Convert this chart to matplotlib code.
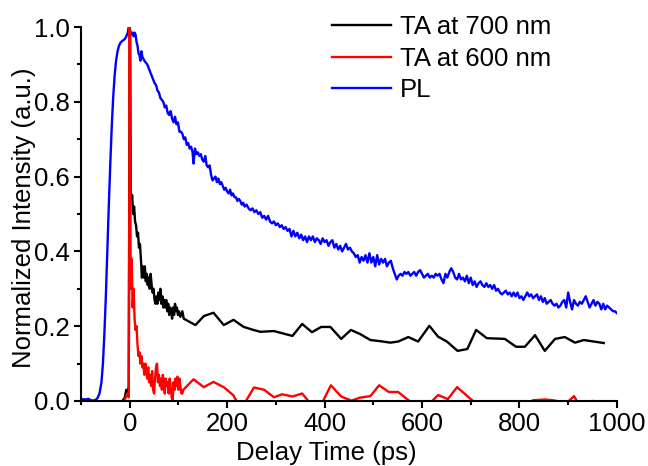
import numpy as np
import matplotlib
matplotlib.use("Agg")
import matplotlib.pyplot as plt
from matplotlib.ticker import MultipleLocator

plt.rcParams['font.family'] = ['Liberation Sans', 'DejaVu Sans']

# TA at 700 nm
ta700_t = [-15, -10, -7, -4, -2, 0, 1, 2, 4, 5, 7, 9, 11, 13, 15, 17, 19, 21, 23, 25,
           27, 29, 31, 33, 35, 37, 39, 41, 43, 45, 47, 49, 51, 53, 55, 57, 59, 61, 63, 65,
           67, 69, 71, 73, 75, 77, 79, 81, 83, 85, 87, 89, 91, 93, 95, 97, 99, 101, 104, 108,
           111, 135, 152, 172, 193, 213, 234, 254, 268, 296, 334, 354, 374, 393, 412, 434, 454, 473, 494, 514,
           535, 551, 572, 592, 615, 633, 651, 673, 693, 711, 733, 770, 793, 811, 832, 852, 873, 893, 914, 932,
           973]
ta700_y = [0.0, 0.01, 0.03, 0.02, 0.04, 1.0, 0.97, 0.56, 0.54, 0.55, 0.50, 0.52, 0.48, 0.47, 0.44, 0.45, 0.41, 0.42, 0.38, 0.33,
           0.36, 0.33, 0.36, 0.32, 0.34, 0.31, 0.33, 0.30, 0.34, 0.31, 0.29, 0.30, 0.27, 0.26, 0.28, 0.26, 0.29, 0.27, 0.30, 0.26,
           0.28, 0.25, 0.27, 0.25, 0.27, 0.24, 0.26, 0.23, 0.25, 0.24, 0.22, 0.25, 0.23, 0.26, 0.24, 0.25, 0.23, 0.24, 0.225, 0.24,
           0.22, 0.203, 0.227, 0.236, 0.203, 0.217, 0.198, 0.19, 0.185, 0.187, 0.174, 0.206, 0.184, 0.198, 0.198, 0.166, 0.19, 0.179, 0.163, 0.16,
           0.156, 0.159, 0.171, 0.159, 0.201, 0.172, 0.159, 0.134, 0.139, 0.19, 0.168, 0.166, 0.145, 0.145, 0.176, 0.134, 0.166, 0.171, 0.156, 0.163,
           0.155]

# TA at 600 nm
ta600_t = [-12, -8, -5, -2, 0, 2, 4, 6, 8, 10, 12, 14, 16, 18, 20, 22, 24, 26, 28, 30,
           32, 34, 36, 38, 40, 42, 44, 46, 48, 50, 52, 54, 56, 58, 60, 62, 64, 66, 68, 70,
           72, 74, 76, 78, 80, 82, 84, 86, 88, 90, 92, 94, 96, 98, 100, 102, 104, 106, 108, 110,
           131, 152, 172, 193, 213, 221, 234, 255, 276, 296, 313, 334, 354, 373, 393, 413, 434, 455, 473, 494,
           512, 532, 551, 579, 617, 633, 653, 672, 693, 709, 730, 750, 770, 790, 810, 828, 852, 869, 897, 912,
           920, 951, 965]
ta600_y = [0.0, 0.01, 0.02, 0.01, 1.0, 0.30, 0.38, 0.25, 0.30, 0.22, 0.19, 0.20, 0.15, 0.12, 0.13, 0.10, 0.12, 0.09, 0.10, 0.07,
           0.10, 0.08, 0.06, 0.09, 0.05, 0.07, 0.04, 0.08, 0.03, 0.02, 0.06, 0.09, 0.10, 0.05, 0.07, 0.04, 0.06, 0.03, 0.07, 0.05,
           0.02, 0.06, 0.04, 0.05, 0.02, 0.06, 0.04, 0.01, 0.0, 0.05, 0.03, 0.06, 0.04, 0.065, 0.03, 0.06, 0.04, 0.02, 0.02, 0.03,
           0.058, 0.037, 0.051, 0.037, 0.015, -0.005, -0.01, 0.036, 0.03, 0.01, 0.018, 0.012, 0.02, -0.01, -0.01, 0.042, 0.012, 0.001, 0.009, 0.013,
           0.042, 0.024, 0.024, -0.005, -0.005, 0.016, 0.005, 0.037, 0.013, -0.005, -0.01, -0.01, -0.005, -0.01, -0.01, 0.002, 0.004, 0.002, -0.005, 0.013,
           -0.005, 0.0, -0.002]

# PL
pl_t = [-100, -95, -90, -85, -80, -75, -70, -66, -62, -58, -55, -52, -49, -46, -43, -40, -37, -34, -31, -28,
        -25, -22, -19, -16, -13, -10, -7, -4, -2, 0, 2, 4, 6, 8, 10, 12, 14, 16, 18, 20,
        22, 24, 26, 28, 30, 33, 36, 39, 42, 45, 48, 51, 54, 57, 60, 63, 66, 69, 72, 75,
        78, 81, 84, 87, 90, 93, 96, 99, 102, 105, 108, 111, 114, 117, 120, 123, 126, 129, 131, 134,
        137, 140, 143, 146, 149, 152, 155, 158, 161, 164, 167, 170, 173, 176, 179, 182, 185, 188, 191, 194,
        197, 200, 203, 206, 209, 212, 215, 218, 221, 224, 227, 230, 233, 236, 240, 244, 248, 252, 256, 260,
        264, 268, 272, 276, 280, 284, 288, 292, 296, 300, 304, 308, 312, 316, 320, 324, 328, 332, 336, 340,
        344, 348, 352, 356, 360, 364, 368, 372, 376, 380, 384, 388, 392, 396, 400, 404, 408, 412, 416, 420,
        424, 428, 432, 436, 440, 444, 448, 452, 456, 460, 464, 468, 472, 476, 480, 484, 488, 492, 496, 500,
        504, 508, 512, 516, 520, 524, 528, 532, 536, 540, 544, 548, 552, 556, 560, 564, 568, 572, 576, 580,
        584, 588, 592, 596, 600, 604, 608, 612, 616, 620, 624, 628, 632, 636, 640, 644, 648, 652, 656, 660,
        664, 668, 672, 676, 680, 684, 688, 692, 696, 700, 704, 708, 712, 716, 720, 724, 728, 732, 736, 740,
        744, 748, 752, 756, 760, 764, 768, 772, 776, 780, 784, 788, 792, 796, 800, 804, 808, 812, 816, 820,
        824, 828, 832, 836, 840, 844, 848, 852, 856, 860, 864, 868, 872, 876, 880, 884, 888, 892, 896, 900,
        904, 908, 912, 916, 920, 924, 928, 932, 936, 940, 944, 948, 952, 956, 960, 964, 968, 972, 976, 980,
        984, 988, 992, 996, 1000]
pl_y = [0.003, 0.005, 0.004, 0.006, 0.002, 0.001, 0.003, 0.008, 0.02, 0.05, 0.10, 0.18, 0.28, 0.40, 0.52, 0.63, 0.73, 0.81, 0.87, 0.91,
        0.935, 0.95, 0.958, 0.962, 0.965, 0.968, 0.975, 0.985, 1.0, 0.995, 0.985, 0.98, 0.985, 0.975, 0.985, 0.98, 0.96, 0.95, 0.93, 0.925,
        0.91, 0.935, 0.92, 0.915, 0.91, 0.905, 0.9, 0.89, 0.88, 0.87, 0.86, 0.85, 0.845, 0.83, 0.825, 0.81, 0.805, 0.80, 0.785, 0.79,
        0.77, 0.765, 0.775, 0.755, 0.745, 0.76, 0.74, 0.745, 0.72, 0.72, 0.715, 0.70, 0.705, 0.685, 0.69, 0.675, 0.68, 0.665, 0.635, 0.675,
        0.66, 0.665, 0.655, 0.66, 0.645, 0.64, 0.655, 0.63, 0.625, 0.63, 0.605, 0.59, 0.595, 0.60, 0.585, 0.595, 0.58, 0.585, 0.575, 0.565,
        0.57, 0.56, 0.555, 0.565, 0.55, 0.555, 0.545, 0.545, 0.535, 0.54, 0.535, 0.525, 0.53, 0.52, 0.525, 0.515, 0.51, 0.515, 0.505, 0.51,
        0.50, 0.505, 0.49, 0.495, 0.485, 0.495, 0.48, 0.475, 0.48, 0.47, 0.475, 0.465, 0.47, 0.46, 0.465, 0.455, 0.46, 0.44, 0.455, 0.44,
        0.45, 0.435, 0.445, 0.43, 0.44, 0.425, 0.44, 0.43, 0.44, 0.425, 0.435, 0.43, 0.42, 0.435, 0.425, 0.43, 0.415, 0.425, 0.43, 0.41,
        0.42, 0.405, 0.415, 0.40, 0.41, 0.42, 0.405, 0.41, 0.40, 0.395, 0.385, 0.39, 0.37, 0.385, 0.375, 0.39, 0.37, 0.395, 0.37, 0.385,
        0.36, 0.39, 0.365, 0.38, 0.37, 0.38, 0.36, 0.37, 0.375, 0.355, 0.34, 0.325, 0.335, 0.34, 0.335, 0.345, 0.34, 0.345, 0.335, 0.34,
        0.345, 0.335, 0.345, 0.35, 0.34, 0.33, 0.335, 0.34, 0.33, 0.335, 0.33, 0.34, 0.335, 0.34, 0.325, 0.315, 0.34, 0.33, 0.345, 0.355,
        0.345, 0.33, 0.325, 0.34, 0.325, 0.33, 0.32, 0.335, 0.315, 0.33, 0.31, 0.32, 0.305, 0.315, 0.32, 0.31, 0.305, 0.315, 0.305, 0.31,
        0.30, 0.31, 0.295, 0.30, 0.29, 0.285, 0.29, 0.295, 0.285, 0.29, 0.28, 0.29, 0.28, 0.29, 0.275, 0.28, 0.27, 0.28, 0.29, 0.28,
        0.285, 0.275, 0.28, 0.285, 0.27, 0.28, 0.265, 0.275, 0.26, 0.265, 0.27, 0.26, 0.255, 0.26, 0.25, 0.255, 0.265, 0.27, 0.25, 0.29,
        0.265, 0.245, 0.27, 0.26, 0.255, 0.265, 0.26, 0.27, 0.28, 0.265, 0.25, 0.26, 0.27, 0.255, 0.265, 0.26, 0.245, 0.26, 0.245, 0.255,
        0.25, 0.245, 0.24, 0.24, 0.235]

fig = plt.figure(figsize=(6.48, 4.66), dpi=100)
ax = fig.add_axes([0.125, 0.1395, 0.827, 0.8025])

ax.plot(ta700_t, ta700_y, color='black', lw=1.7, label='TA at 700 nm', zorder=2.1)
ax.plot(ta600_t, ta600_y, color='red', lw=1.7, label='TA at 600 nm', zorder=2.2)
ax.plot(pl_t, pl_y, color='blue', lw=1.7, label='PL', zorder=2.0)

ax.set_xlim(-100, 1000)
ax.set_ylim(0, 1.0)
ax.xaxis.set_major_locator(MultipleLocator(200))
ax.xaxis.set_minor_locator(MultipleLocator(100))
ax.yaxis.set_major_locator(MultipleLocator(0.2))
ax.yaxis.set_minor_locator(MultipleLocator(0.1))
ax.yaxis.set_major_formatter(plt.FormatStrFormatter('%.1f'))

for s in ['top', 'right']:
    ax.spines[s].set_visible(False)
for s in ['left', 'bottom']:
    ax.spines[s].set_linewidth(1.5)

ax.tick_params(which='major', direction='out', length=5, width=1.5, labelsize=18.5, pad=3)
ax.tick_params(which='minor', direction='out', length=3, width=1.5)

ax.set_xlabel('Delay Time (ps)', fontsize=18.5)
ax.set_ylabel('Normalized Intensity (a.u.)', fontsize=18.5)
ax.xaxis.set_label_coords(0.457, -0.106)
ax.xaxis.label.set_va('top')
ax.yaxis.set_label_coords(-0.106, 0.49)
ax.yaxis.label.set_va('center')

ax.legend(loc='upper left', bbox_to_anchor=(0.512, 0.968), bbox_transform=fig.transFigure,
          frameon=False, fontsize=18.5, handlelength=2.3, handletextpad=0.35,
          labelspacing=0.3, borderpad=0, borderaxespad=0)

fig.savefig('out.png', dpi=100)
